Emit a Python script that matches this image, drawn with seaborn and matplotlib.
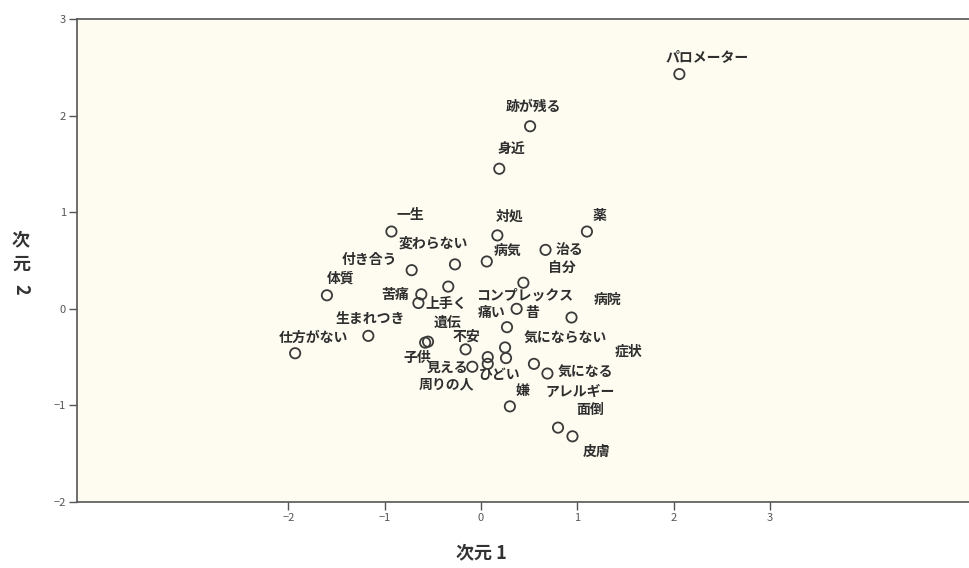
import matplotlib
matplotlib.use("Agg")
import matplotlib.pyplot as plt
import seaborn as sns
import pandas as pd

labels = ["パロメーター", "跡が残る", "身近", "一生", "対処", "薬", "病気", "治る",
          "付き合う", "変わらない", "体質", "仕方がない", "生まれつき", "自分",
          "コンプレックス", "苦痛", "上手く", "昔", "病院", "痛い", "遺伝", "子供",
          "不安", "気にならない", "見える", "ひどい", "周りの人", "症状", "気になる",
          "アレルギー", "嫌", "面倒", "皮膚"]
dim1 = [2.06, 0.51, 0.19, -0.93, 0.17, 1.10, 0.06, 0.67,
        -0.72, -0.27, -1.60, -1.93, -1.17, 0.44,
        -0.34, -0.62, -0.65, 0.37, 0.94, 0.27, -0.55, -0.58,
        -0.16, 0.25, -0.09, 0.07, 0.07, 0.26, 0.55,
        0.69, 0.30, 0.80, 0.95]
dim2 = [2.43, 1.89, 1.45, 0.80, 0.76, 0.80, 0.49, 0.61,
        0.40, 0.46, 0.14, -0.46, -0.28, 0.27,
        0.23, 0.15, 0.06, 0.00, -0.09, -0.19, -0.34, -0.35,
        -0.42, -0.40, -0.60, -0.50, -0.57, -0.51, -0.57,
        -0.67, -1.01, -1.23, -1.32]

# label offsets in pixels (style only)
label_dx = [28, 3, 12, 19, 12, 13, 21, 24,
            -42, -22, 14, 18, 2, 39,
            76, -26, 28, 16, 36, -15, 19, -8,
            1, 60, -25, 12, -41, 122, 51,
            33, 13, 32, 24]
label_dy = [17, 19, 19, 17, 19, 16, 11, 0,
            10, 21, 17, 15, 17, 15,
            -9, -1, -1, -4, 18, 14, 19, -15,
            13, 10, -1, -18, -21, 6, -8,
            -18, 15, 18, -16]

xticks = [-2, -1, 0, 1, 2, 3]
yticks = [-2, -1, 0, 1, 2, 3]

df = pd.DataFrame({"label": labels, "x": dim1, "y": dim2})

sns.set_theme(style="white")
plt.rcParams['font.family'] = ['Noto Sans CJK JP', 'DejaVu Sans']

fig = plt.figure(figsize=(9.70, 5.68), dpi=100)
ax = fig.add_axes([0.0794, 0.1162, 0.9706, 0.8503])
ax.set_facecolor("#fefcf0")

sns.scatterplot(data=df, x="x", y="y", ax=ax, marker="o", s=55,
                facecolors="none", edgecolor="#3a3a3a", linewidth=1.3,
                legend=False, zorder=3)

for lab, x, y, dx, dy in zip(labels, dim1, dim2, label_dx, label_dy):
    ax.annotate(lab, (x, y), xytext=(dx, dy), textcoords="offset pixels",
                ha="center", va="center", fontsize=10, color="#2e2e2e",
                fontweight="bold", zorder=4)

ax.set_xlim(-4.195, 5.078 + 0.05 * 970 / 96.3)
ax.set_ylim(-2, 3)
ax.set_xticks(xticks)
ax.set_yticks(yticks)
ax.set_xticklabels([str(t).replace("-", "−") for t in xticks], fontsize=8, color="#555555")
ax.set_yticklabels([str(t).replace("-", "−") for t in yticks], fontsize=8, color="#555555")
ax.tick_params(axis="both", direction="out", length=6, width=1, color="#555555",
               bottom=True, left=True, pad=2)

for side in ["left", "bottom", "top"]:
    ax.spines[side].set_visible(True)
    ax.spines[side].set_color("#555555")
    ax.spines[side].set_linewidth(1.2)
ax.spines["right"].set_visible(False)

ax.set_xlabel("")
ax.set_ylabel("")
fig.text(481 / 970, 1 - 553 / 568, "次元 1", ha="center", va="center",
         fontsize=13, fontweight="bold", color="#333333")
fig.text(21 / 970, 1 - 240 / 568, "次", ha="center", va="center",
         fontsize=13, fontweight="bold", color="#333333")
fig.text(21 / 970, 1 - 264 / 568, "元", ha="center", va="center",
         fontsize=13, fontweight="bold", color="#333333")
fig.text(21 / 970, 1 - 289 / 568, "2", ha="center", va="center", rotation=-90,
         fontsize=13, fontweight="bold", color="#333333")

fig.savefig("out.png", dpi=100, facecolor="white")
